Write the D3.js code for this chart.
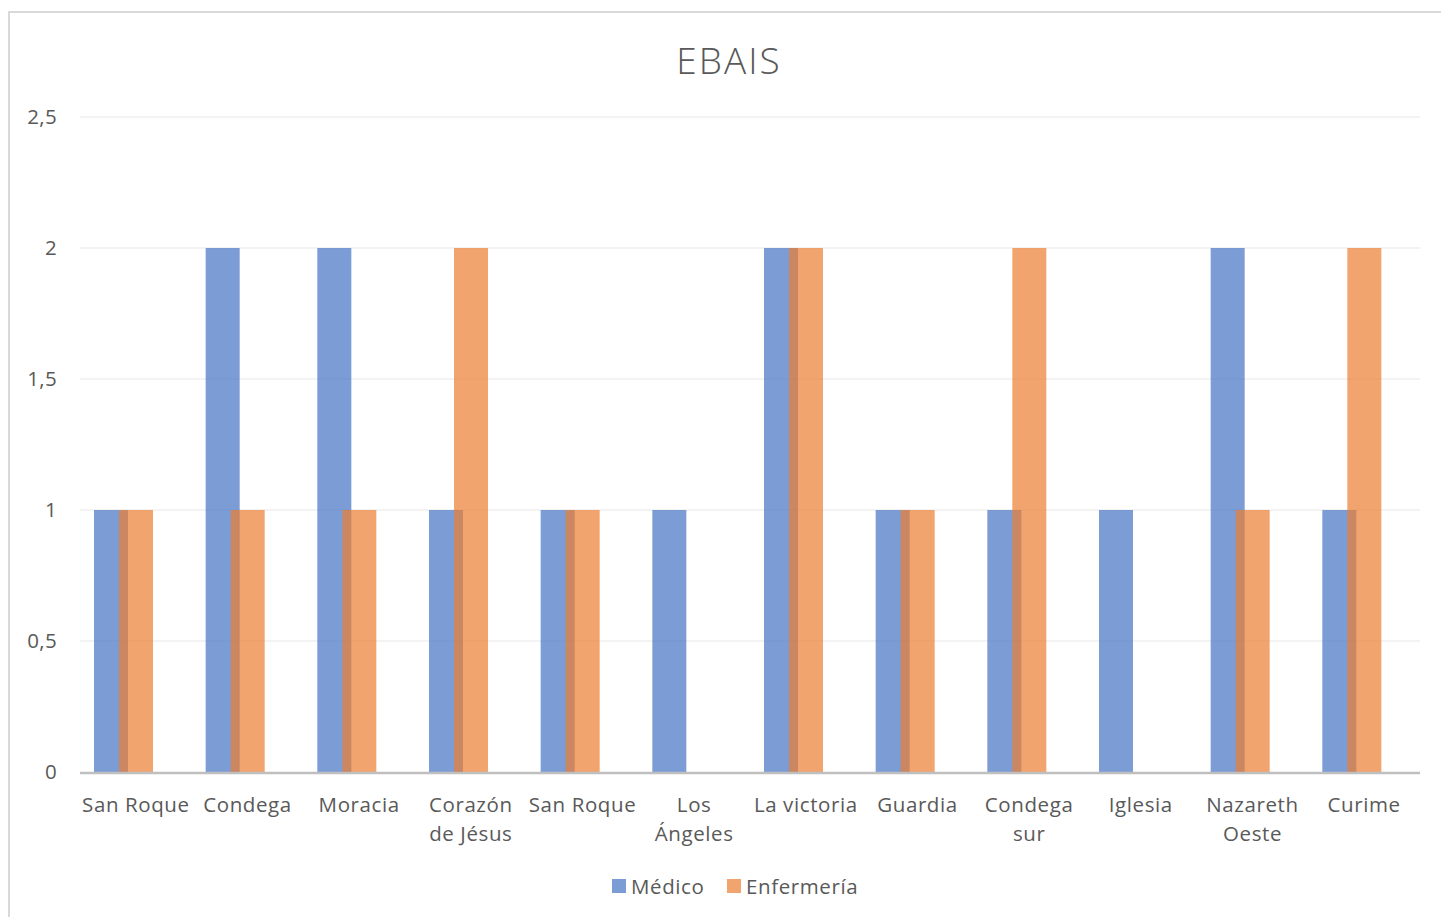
<!DOCTYPE html>
<html>
<head>
<meta charset="utf-8">
<script src="https://cdn.jsdelivr.net/npm/d3@7"></script>
<style>
  html, body { margin: 0; padding: 0; background: #fff; }
  svg { display: block; }
</style>
</head>
<body>
<svg id="chart" width="1441" height="917"></svg>
<script>
// EBAIS staffing: doctors and nurses per health unit
const categories = [
  "San Roque", "Condega", "Moracia", "Corazón\nde Jésus", "San Roque",
  "Los\nÁngeles", "La victoria", "Guardia", "Condega\nsur", "Iglesia",
  "Nazareth\nOeste", "Curime"
];
const medico     = [1, 2, 2, 1, 1, 1, 2, 1, 1, 1, 2, 1];
const enfermeria = [1, 1, 1, 2, 1, 0, 2, 1, 2, 0, 1, 2];
const yTicks = [0, 0.5, 1, 1.5, 2, 2.5];
const seriesNames = ["Médico", "Enfermería"];

const colors = ["#4472C4", "#ED7D31"];
const font = "'Open Sans', 'Noto Sans', sans-serif";
const textColor = "#595959";
const labelSize = 20.5;

const svg = d3.select("#chart");

// outer chart frame
svg.append("rect")
  .attr("x", 9).attr("y", 12)
  .attr("width", 1450).attr("height", 930)
  .attr("fill", "#fff")
  .attr("stroke", "#d9d9d9").attr("stroke-width", 2);

const plot = { left: 80, right: 1420, top: 117, bottom: 772 };

const x = d3.scaleBand()
  .domain(d3.range(categories.length))
  .range([plot.left, plot.right])
  .padding(0);

const y = d3.scaleLinear()
  .domain([0, 2.5])
  .range([plot.bottom, plot.top]);

const fmt = v => String(v).replace(".", ",");

// gridlines
svg.append("g")
  .selectAll("line")
  .data(yTicks.filter(t => t > 0))
  .join("line")
  .attr("x1", plot.left).attr("x2", plot.right)
  .attr("y1", d => y(d)).attr("y2", d => y(d))
  .attr("stroke", "#efefef").attr("stroke-width", 1.5);

// y axis labels
const yAxis = d3.axisLeft(y).tickValues(yTicks).tickFormat(fmt).tickSize(0).tickPadding(0);
const yg = svg.append("g")
  .attr("transform", `translate(${plot.left - 23},0)`)
  .call(yAxis);
yg.select(".domain").remove();
yg.selectAll("text")
  .attr("font-family", font).attr("font-size", labelSize)
  .attr("letter-spacing", 0.3)
  .attr("fill", textColor);

// bars: series overlap slightly, semi-transparent
const barW = 34;
const offsets = [14, 39];
const seriesData = [medico, enfermeria];
seriesData.forEach((vals, s) => {
  svg.append("g")
    .selectAll("rect")
    .data(vals)
    .join("rect")
    .attr("x", (d, i) => x(i) + offsets[s])
    .attr("width", barW)
    .attr("y", d => y(d))
    .attr("height", d => y(0) - y(d))
    .attr("fill", colors[s])
    .attr("fill-opacity", 0.7);
});

// baseline
svg.append("line")
  .attr("x1", plot.left).attr("x2", plot.right)
  .attr("y1", y(0) + 1).attr("y2", y(0) + 1)
  .attr("stroke", "#bfbfbf").attr("stroke-width", 2.5);

// category labels
const xg = svg.append("g");
categories.forEach((c, i) => {
  const cx = x(i) + x.bandwidth() / 2;
  const t = xg.append("text")
    .attr("x", cx)
    .attr("y", 812)
    .attr("text-anchor", "middle")
    .attr("font-family", font).attr("font-size", labelSize)
    .attr("letter-spacing", 0.6)
    .attr("fill", textColor);
  c.split("\n").forEach((line, k) => {
    t.append("tspan")
      .attr("x", cx)
      .attr("dy", k === 0 ? 0 : 29)
      .text(line);
  });
});

// title
svg.append("text")
  .attr("x", 729).attr("y", 74)
  .attr("text-anchor", "middle")
  .attr("font-family", font).attr("font-size", 37)
  .attr("font-weight", 300)
  .attr("letter-spacing", 2)
  .attr("fill", textColor)
  .text("EBAIS");

// legend
const legendX = [612, 727];
seriesNames.forEach((name, s) => {
  svg.append("rect")
    .attr("x", legendX[s]).attr("y", 879)
    .attr("width", 14).attr("height", 14)
    .attr("fill", colors[s]).attr("fill-opacity", 0.7);
  svg.append("text")
    .attr("x", legendX[s] + 19).attr("y", 894)
    .attr("font-family", font).attr("font-size", labelSize)
    .attr("letter-spacing", 0.6)
    .attr("fill", textColor)
    .text(name);
});
</script>
</body>
</html>
